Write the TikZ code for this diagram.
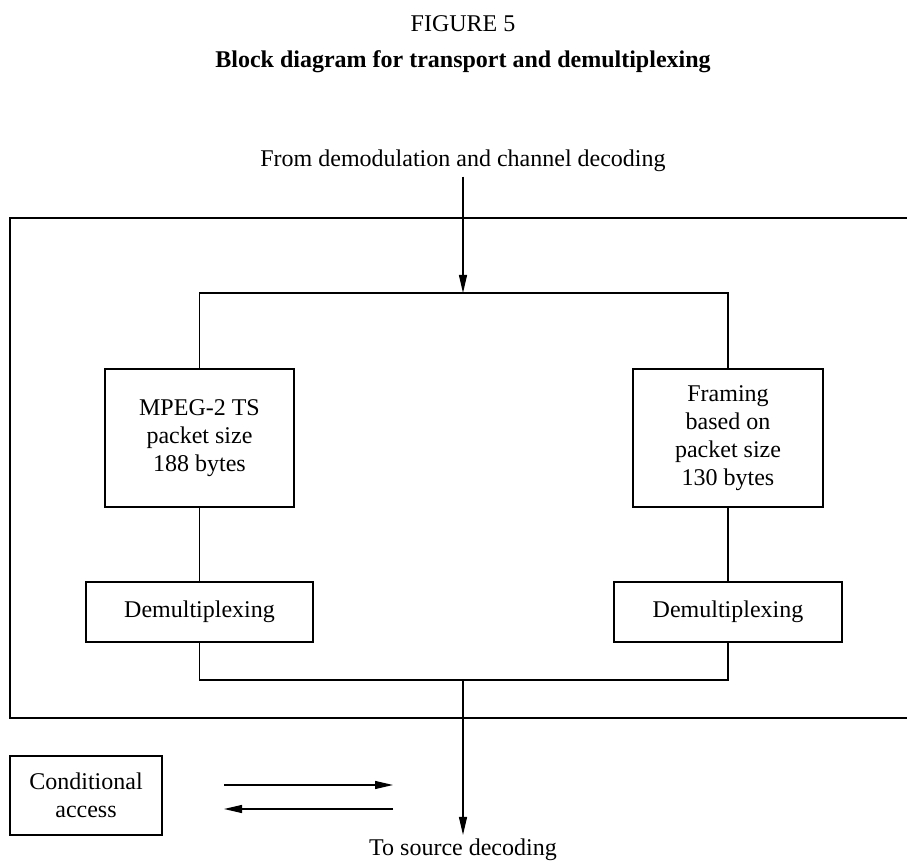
\documentclass[tikz,border=0pt]{standalone}
\usepackage{fontspec}
\setmainfont{Liberation Serif}
\usetikzlibrary{arrows.meta}

\begin{document}
\begin{tikzpicture}[
    x=0.5pt, y=-0.5pt,
    every node/.style={font=\fontsize{12}{14}\selectfont},
    box/.style={rectangle, draw=black, line width=0.6pt, align=center, inner sep=2pt},
    txt/.style={anchor=base, inner sep=2pt},
    link/.style={line width=0.6pt},
    arrow/.style={->, line width=0.6pt, >={Triangle[length=9pt, width=4pt]}}
]
\useasboundingbox (0,0) rectangle (907,861);

% Titles
\node[txt] (fig)   at (463,32) {FIGURE 5};
\node[txt] (title) at (463,68) {\bfseries Block diagram for transport and demultiplexing};

% Transport frame
\draw[link] (10,218) rectangle (930,718);

% Nodes
\node[txt] (src) at (463,167) {From demodulation and channel decoding};

\node[box, minimum width=94.5pt, minimum height=69pt] (mpeg)    at (199.5,438) {MPEG-2 TS\\packet size\\188 bytes};
\node[box, minimum width=95pt,   minimum height=69pt] (framing) at (728,438)   {Framing\\based on\\packet size\\130 bytes};

\node[box, minimum width=113.5pt, minimum height=30pt] (dmxL) at (199.5,612) {Demultiplexing};
\node[box, minimum width=114pt,   minimum height=30pt] (dmxR) at (728,612)   {Demultiplexing};

\node[box, minimum width=76pt, minimum height=39.5pt] (ca) at (86,795.5) {Conditional\\access};

\node[txt] (sink) at (463,856) {To source decoding};

\coordinate (split) at (463,293);
\coordinate (merge) at (463,680);

\coordinate (caOutA) at (224,785);
\coordinate (caOutB) at (393,785);
\coordinate (caInA)  at (393,809);
\coordinate (caInB)  at (224,809);

% Connections
\draw[arrow] (src.south) -- (split);
\draw[link] (mpeg.north) |- (split) -| (framing.north);

\draw[link] (mpeg.south) -- (dmxL.north);
\draw[link] (framing.south) -- (dmxR.north);

\draw[link] (dmxL.south) |- (merge) -| (dmxR.south);
\draw[arrow] (merge) -- (sink.north);

% Conditional access exchange
\draw[arrow] (caOutA) -- (caOutB);
\draw[arrow] (caInA) -- (caInB);

\end{tikzpicture}
\end{document}
